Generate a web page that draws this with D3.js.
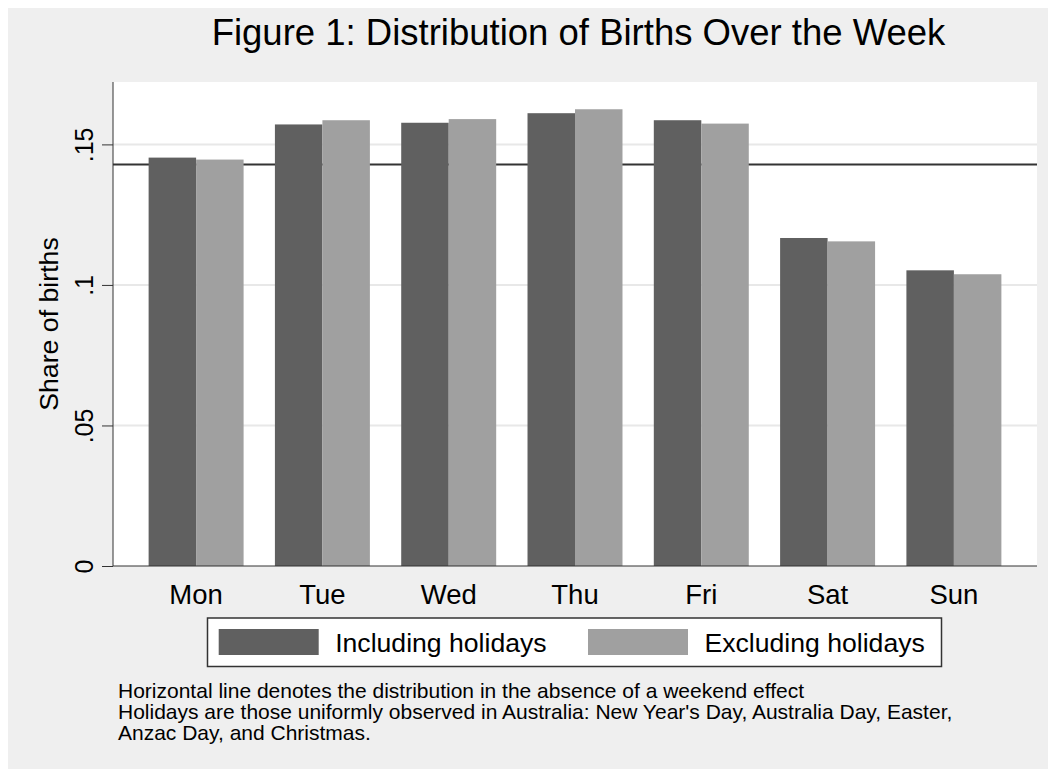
<!DOCTYPE html>
<html><head><meta charset="utf-8">
<script src="https://cdn.jsdelivr.net/npm/d3@7"></script>
<style>html,body{margin:0;padding:0;background:#fff;}svg{display:block;font-family:"Liberation Sans",Arial,sans-serif;}</style>
</head><body>
<script>
const days = ["Mon","Tue","Wed","Thu","Fri","Sat","Sun"];
const seriesNames = ["Including holidays","Excluding holidays"];
const including = [0.1453,0.1571,0.1577,0.1611,0.1586,0.1167,0.1052];
const excluding = [0.1446,0.1586,0.1590,0.1625,0.1574,0.1155,0.1038];
const yTicks = [0,0.05,0.1,0.15];
const yTickLabels = ["0",".05",".1",".15"];
const refValue = 1/7;
const title = "Figure 1: Distribution of Births Over the Week";
const yTitle = "Share of births";
const notes = ["Horizontal line denotes the distribution in the absence of a weekend effect",
  "Holidays are those uniformly observed in Australia: New Year's Day, Australia Day, Easter,",
  "Anzac Day, and Christmas."];

const W=1048,H=769;
const plot={l:113,r:1037,t:82,b:566};
const colors=["#606060","#a0a0a0"];

const svg=d3.select("body").append("svg").attr("width",W).attr("height",H);
svg.append("rect").attr("x",8).attr("y",8).attr("width",W-8).attr("height",H-8).attr("fill","#efefef");
svg.append("rect").attr("x",plot.l).attr("y",plot.t).attr("width",plot.r-plot.l).attr("height",plot.b-plot.t).attr("fill","#fff");

const y=d3.scaleLinear().domain([0,0.1722]).range([plot.b,plot.t]);
const x=d3.scaleBand().domain(days).range([plot.l,plot.r]).paddingInner(0.248).paddingOuter(0.282);
const xs=d3.scaleBand().domain(seriesNames).range([0,x.bandwidth()]);

// gridlines
svg.append("g").selectAll("line").data(yTicks.filter(d=>d>0)).join("line")
  .attr("x1",plot.l).attr("x2",plot.r).attr("y1",d=>y(d)).attr("y2",d=>y(d))
  .attr("stroke","#e8e8e8").attr("stroke-width",2);
// reference line
svg.append("line").attr("x1",plot.l).attr("x2",plot.r).attr("y1",y(refValue)).attr("y2",y(refValue))
  .attr("stroke","#333").attr("stroke-width",2);

// bars
const data=days.map((d,i)=>({day:d,vals:[including[i],excluding[i]]}));
const g=svg.append("g").selectAll("g").data(data).join("g").attr("transform",d=>`translate(${x(d.day)},0)`);
g.selectAll("rect").data(d=>d.vals.map((v,j)=>({v,j}))).join("rect")
  .attr("x",d=>xs(seriesNames[d.j])).attr("width",xs.bandwidth())
  .attr("y",d=>y(d.v)).attr("height",d=>plot.b-y(d.v))
  .attr("fill",d=>colors[d.j]);

// y axis
const yAxis=d3.axisLeft(y).tickValues(yTicks).tickFormat((d,i)=>yTickLabels[i]).tickSize(11).tickPadding(0);
const ya=svg.append("g").attr("transform",`translate(${plot.l},0)`).call(yAxis);
ya.select(".domain").attr("stroke","#333").attr("d",`M0,${plot.t}V${plot.b}`);
ya.selectAll(".tick line").attr("stroke","#333");
ya.selectAll(".tick text").attr("transform",null).attr("x",null).attr("dy",null)
  .attr("text-anchor","middle").attr("font-size",25).attr("fill","#000")
  .attr("transform","translate(-20,0) rotate(-90)");
// bottom axis line
svg.append("line").attr("x1",plot.l).attr("x2",plot.r).attr("y1",plot.b).attr("y2",plot.b).attr("stroke","#333").attr("stroke-width",1);

// x labels
const xAxis=d3.axisBottom(x).tickSize(0).tickPadding(0);
const xa=svg.append("g").attr("transform",`translate(0,${plot.b})`).call(xAxis);
xa.select(".domain").remove();
xa.selectAll(".tick text").attr("y",37.5).attr("dy",null).attr("font-size",27.5).attr("fill","#000");

// y title
svg.append("text").attr("transform",`translate(58,${(plot.t+plot.b)/2}) rotate(-90)`)
  .attr("text-anchor","middle").attr("font-size",26.7).text(yTitle);
// title
svg.append("text").attr("x",(212+945)/2).attr("y",45).attr("text-anchor","middle")
  .attr("font-size",36.5).text(title);

// legend
const lg=svg.append("g");
lg.append("rect").attr("x",207.5).attr("y",618).attr("width",734).attr("height",48.5)
  .attr("fill","#fff").attr("stroke","#333").attr("stroke-width",1.5);
const legX=[218.7,588];
seriesNames.forEach((n,i)=>{
  lg.append("rect").attr("x",legX[i]).attr("y",629).attr("width",100).attr("height",26).attr("fill",colors[i]);
  lg.append("text").attr("x",legX[i]+116.5).attr("y",651.5).attr("font-size",26.6).text(n);
});

// notes
svg.append("g").selectAll("text").data(notes).join("text")
  .attr("x",118).attr("y",(d,i)=>697.5+i*21).attr("font-size",21).text(d=>d);
</script>
</body></html>
